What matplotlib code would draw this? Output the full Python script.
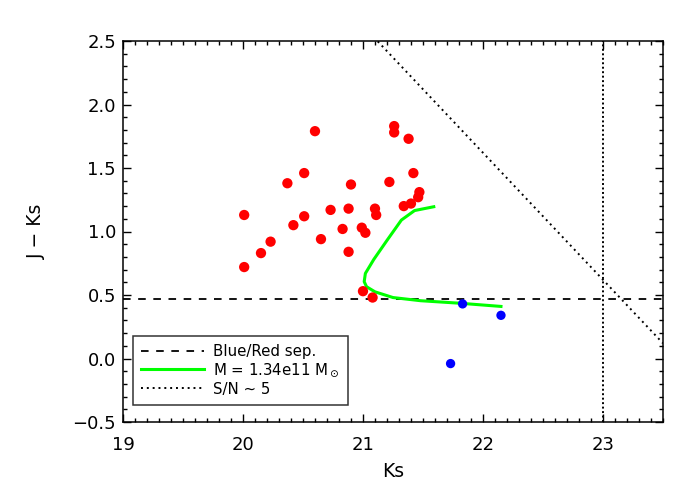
import matplotlib
matplotlib.use("Agg")
import matplotlib.pyplot as plt
from matplotlib.ticker import MultipleLocator, FuncFormatter
import numpy as np

plt.rcParams['font.family'] = ['DejaVu Sans']
plt.rcParams['mathtext.fontset'] = 'dejavusans'

# Red galaxies (Ks, J-Ks)
red_ks = [20.01, 20.01, 20.15, 20.23, 20.37, 20.42, 20.51, 20.51, 20.60, 20.65,
          20.73, 20.83, 20.88, 20.90, 20.88, 20.99, 21.02, 21.00, 21.08, 21.10,
          21.11, 21.22, 21.26, 21.26, 21.38, 21.42, 21.34, 21.40, 21.47, 21.46]
red_jk = [1.13, 0.72, 0.83, 0.92, 1.38, 1.05, 1.46, 1.12, 1.79, 0.94,
          1.17, 1.02, 1.18, 1.37, 0.84, 1.03, 0.99, 0.53, 0.48, 1.18,
          1.13, 1.39, 1.83, 1.78, 1.73, 1.46, 1.20, 1.22, 1.31, 1.27]

# Blue galaxies
blue_ks = [21.83, 22.15, 21.73]
blue_jk = [0.43, 0.34, -0.04]

# Model track M = 1.34e11 Msun
trk_ks = [21.59, 21.43, 21.32, 21.20, 21.09, 21.02, 21.01, 21.03, 21.10, 21.25, 21.48, 21.81, 22.15]
trk_jk = [1.195, 1.165, 1.09, 0.93, 0.78, 0.67, 0.605, 0.565, 0.525, 0.48, 0.455, 0.435, 0.41]

sep_y = 0.47          # blue/red separation
sn_ks = 23.0          # S/N ~ 5 Ks limit
sn_jlim = 23.62       # S/N ~ 5 J limit -> J-Ks = Jlim - Ks

xlim = (19, 23.5)
ylim = (-0.5, 2.5)

fig = plt.figure(figsize=(7, 5), dpi=100)
ax = fig.add_axes([0.1757, 0.156, 0.7714, 0.762])

ax.axhline(sep_y, color='black', lw=1.3, ls=(0, (4.2, 4.2)), label='Blue/Red sep.', zorder=2)
ax.plot(trk_ks, trk_jk, color='#00ff00', lw=2.2, label=r'M = 1.34e11 M$_\odot$', zorder=3)
xs = np.array(xlim)
ax.plot(xs, sn_jlim - xs, color='black', lw=1.4, ls=(0, (1, 2.0)), label='S/N ~ 5', zorder=2)
ax.axvline(sn_ks, color='black', lw=1.4, ls=(0, (1, 1.3)), zorder=2)

ax.scatter(red_ks, red_jk, s=55, color='red', edgecolors='none', zorder=4)
ax.scatter(blue_ks, blue_jk, s=45, color='blue', edgecolors='none', zorder=4)

ax.set_xlim(*xlim)
ax.set_ylim(*ylim)
ax.xaxis.set_major_locator(MultipleLocator(1))
ax.xaxis.set_minor_locator(MultipleLocator(0.1))
ax.yaxis.set_major_locator(MultipleLocator(0.5))
ax.yaxis.set_minor_locator(MultipleLocator(0.1))
ax.yaxis.set_major_formatter(FuncFormatter(lambda v, p: f'{v:.1f}'.replace('-', '\u2212')))
ax.tick_params(which='both', direction='in', top=True, right=True, labelsize=13, width=1)
ax.tick_params(axis='x', pad=10)
ax.tick_params(axis='y', pad=5)
ax.tick_params(which='major', length=6)
ax.tick_params(which='minor', length=3)
for sp in ax.spines.values():
    sp.set_linewidth(1.1)

ax.set_xlabel('Ks', fontsize=13.5, labelpad=6)
ax.set_ylabel('J − Ks', fontsize=13.5, labelpad=19)

leg = ax.legend(loc='lower left', bbox_to_anchor=(0.0185, 0.045), borderaxespad=0,
                fontsize=10.8, frameon=True, fancybox=False, edgecolor='black',
                handlelength=4.2, handletextpad=0.6, labelspacing=0.15, borderpad=0.55)
leg.get_frame().set_linewidth(1.1)

fig.savefig('out.png', dpi=100)
